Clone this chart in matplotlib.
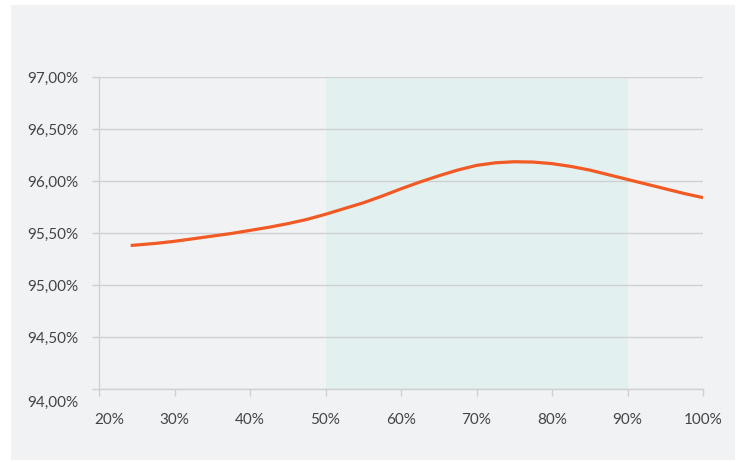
import matplotlib.pyplot as plt
from matplotlib.patches import Rectangle
from matplotlib.transforms import ScaledTranslation

# load (%) vs efficiency (%)
load = [24.2, 27.5, 30, 32.5, 35, 37.5, 40, 42.5, 45, 47.5, 50, 52.5, 55, 57.5,
        60, 62.5, 65, 67.5, 70, 72.5, 75, 77.5, 80, 82.5, 85, 87.5, 90, 92.5,
        95, 97.5, 100]
efficiency = [95.38, 95.40, 95.42, 95.445, 95.47, 95.495, 95.525, 95.555, 95.59,
              95.63, 95.68, 95.735, 95.79, 95.855, 95.925, 95.99, 96.05, 96.105,
              96.15, 96.175, 96.185, 96.182, 96.167, 96.14, 96.105, 96.06, 96.015,
              95.97, 95.925, 95.88, 95.84]

x_ticks = [20, 30, 40, 50, 60, 70, 80, 90, 100]
x_labels = ["20%", "30%", "40%", "50%", "60%", "70%", "80%", "90%", "100%"]
y_ticks = [94.0, 94.5, 95.0, 95.5, 96.0, 96.5, 97.0]
y_labels = ["94,00%", "94,50%", "95,00%", "95,50%", "96,00%", "96,50%", "97,00%"]
band = (50, 90)

plt.rcParams['font.family'] = ['Lato', 'DejaVu Sans']

fig = plt.figure(figsize=(7.39, 4.62), dpi=100)
fig.patch.set_facecolor("white")
fig.patches.append(Rectangle((11 / 739, 2 / 462), 724 / 739, 455 / 462,
                             transform=fig.transFigure, facecolor="#f1f2f4",
                             edgecolor="none", zorder=-10))

ax = fig.add_axes([99 / 739, 1 - 389 / 462, 604 / 739, 312 / 462])
ax.set_facecolor("none")

ax.axvspan(band[0], band[1], color="#e2f1ef", zorder=0, lw=0)
ax.plot(load, efficiency, color="#f15a24", lw=2.3, zorder=3,
        solid_capstyle="butt", solid_joinstyle="round")

ax.set_xlim(20, 100)
ax.set_ylim(94, 97)
ax.set_xticks(x_ticks)
ax.set_xticklabels(x_labels)
ax.set_yticks(y_ticks)
ax.set_yticklabels(y_labels)

ax.grid(axis="y", color="#d0d0d2", lw=1.0, zorder=1)
for s in ["top", "right"]:
    ax.spines[s].set_visible(False)
for s in ["left", "bottom"]:
    ax.spines[s].set_color("#d0d0d2")
    ax.spines[s].set_linewidth(1.0)

ax.tick_params(axis="both", colors="#d0d0d2", length=5, width=1.0,
               labelcolor="#444444", labelsize=11)
ax.tick_params(axis="x", pad=12)
ax.tick_params(axis="y", pad=10)

# nudge the corner labels apart, as in the reference
ax.get_yticklabels()[0].set_transform(
    ax.get_yticklabels()[0].get_transform() + ScaledTranslation(0, -12 / 100, fig.dpi_scale_trans))
ax.get_xticklabels()[0].set_transform(
    ax.get_xticklabels()[0].get_transform() + ScaledTranslation(10 / 100, 0, fig.dpi_scale_trans))

fig.savefig("out.png", dpi=100)
